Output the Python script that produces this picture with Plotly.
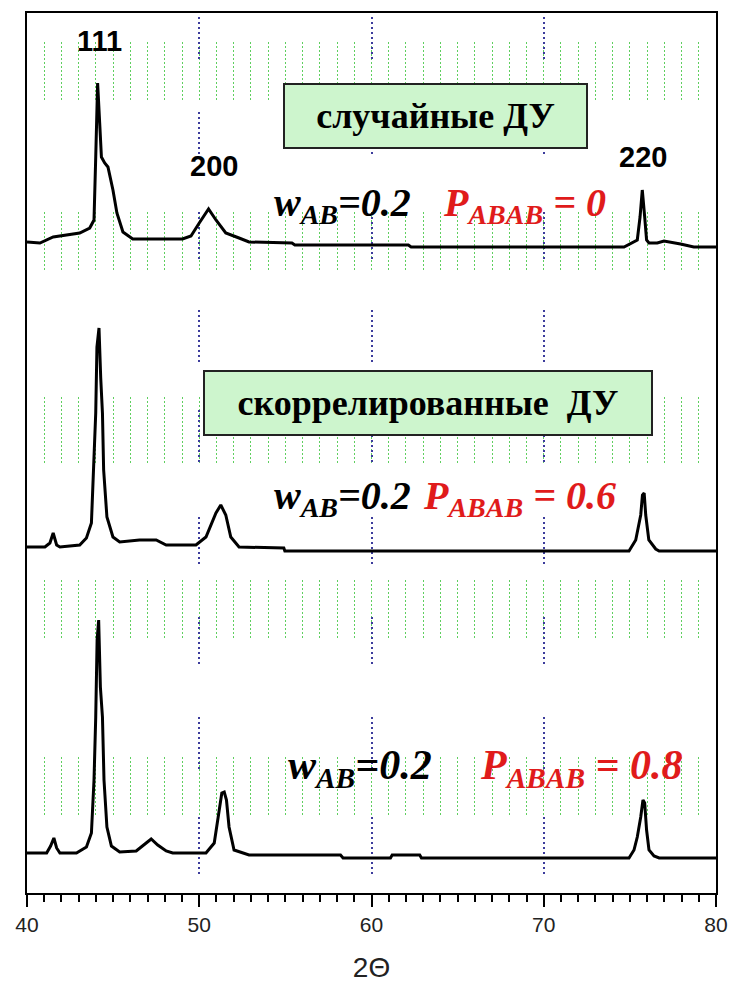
import plotly.graph_objects as go

# Diffraction profiles: 2-theta (deg) and intensity above each pattern's baseline
two_theta_top = [40.0, 40.75, 41.52, 42.29, 43.06, 43.64, 43.89, 43.99, 44.10, 44.22,
                 44.32, 44.51, 44.70, 44.99, 45.22, 45.57, 46.14, 49.03, 49.52, 50.00,
                 50.54, 50.97, 51.54, 52.31, 52.89, 55.38, 55.55, 62.14, 62.30, 74.66,
                 75.43, 75.59, 75.72, 75.86, 75.97, 76.11, 76.59, 76.98, 77.36, 77.94,
                 78.71, 80.0]
intensity_top = [5, 4, 10, 12, 14, 19, 27, 90, 164, 124,
                 90, 84, 80, 57, 34, 15, 8, 8, 11, 24,
                 38, 27, 14, 9, 5, 4, 2, 2, 0, 0,
                 7, 30, 57, 30, 7, 4, 4, 6, 5, 3,
                 0, 0]

two_theta_mid = [40.0, 41.04, 41.33, 41.52, 41.72, 41.91, 43.06, 43.45, 43.74, 43.87,
                 43.99, 44.06, 44.18, 44.28, 44.38, 44.45, 44.64, 44.99, 45.38, 46.53,
                 47.50, 48.08, 49.81, 50.39, 50.97, 51.25, 51.54, 51.83, 52.31, 54.91,
                 54.97, 74.95, 75.34, 75.63, 75.73, 75.83, 75.92, 76.10, 76.50, 76.70,
                 80.0]
intensity_mid = [4, 4, 8, 18, 6, 4, 6, 13, 28, 81,
                 138, 204, 223, 173, 138, 81, 34, 14, 9, 11,
                 11, 6, 6, 14, 38, 46, 36, 14, 4, 3,
                 0, 0, 11, 36, 56, 58, 36, 11, 2, 0,
                 0]

two_theta_bot = [40.0, 41.14, 41.37, 41.56, 41.72, 41.91, 42.87, 43.45, 43.74, 43.89,
                 43.99, 44.07, 44.16, 44.26, 44.38, 44.47, 44.64, 44.90, 45.38, 46.34,
                 46.92, 47.21, 47.59, 48.08, 48.46, 50.39, 50.87, 51.16, 51.31, 51.45,
                 51.58, 51.73, 52.02, 52.89, 58.20, 58.35, 61.10, 61.20, 62.80, 62.90,
                 74.95, 75.24, 75.43, 75.63, 75.76, 75.86, 75.97, 76.11, 76.40, 76.70,
                 80.0]
intensity_bot = [5, 5, 12, 20, 10, 5, 5, 11, 25, 78,
                 141, 218, 238, 171, 141, 78, 31, 12, 6, 7,
                 15, 19, 13, 7, 5, 5, 15, 45, 65, 66,
                 58, 31, 8, 3, 3, 0, 0, 3, 3, 0,
                 0, 8, 21, 41, 58, 55, 28, 8, 2, 0,
                 0]

# vertical shift of each pattern in the stack
offsets = [646, 342, 35]

peak_labels = ["111", "200", "220"]
x_ticks = [40, 50, 60, 70, 80]

# ---- dotted grid patterns (pixel runs measured from the top of the plot area)
def dotted_runs(spans, on, off, total=900):
    arr, pos = [], 0
    for a, b in spans:
        arr += [0, a - pos]
        n = int((b - a) // (on + off))
        arr += [on, off] * n
        pos = a + n * (on + off)
    arr += [0, total - pos]
    return ",".join(f"{v:g}px" for v in arr)

green_bands = [(29, 90), (199, 262), (384, 452), (567, 629), (744, 807)]
blue_runs = [(4, 49), (99, 147), (199, 252), (297, 355), (397, 454),
             (504, 557), (604, 655), (704, 760), (804, 864)]

fig = go.Figure()
for tt, inten, off in zip([two_theta_top, two_theta_mid, two_theta_bot],
                          [intensity_top, intensity_mid, intensity_bot], offsets):
    fig.add_trace(go.Scatter(x=tt, y=[off + v for v in inten], mode="lines",
                             line=dict(color="black", width=3), showlegend=False,
                             hoverinfo="skip"))

serif = "Liberation Serif"
sans = "Liberation Sans"

annots = []
# reflection indices
for lab, (x, y) in zip(peak_labels, [(44.22, 852), (50.87, 727), (75.78, 736)]):
    annots.append(dict(x=x, y=y, text=f"<b>{lab}</b>", showarrow=False,
                       font=dict(family=sans, size=29, color="black")))

# captions in green boxes
for txt, x, y, w in [("случайные ДУ", 63.73, 777, 301),
                     ("скоррелированные\u00a0 ДУ", 63.29, 490, 446)]:
    annots.append(dict(x=x, y=y, text=f"<b>{txt}</b>", showarrow=False,
                       font=dict(family=serif, size=36, color="black"),
                       bgcolor="#cdf5cd", bordercolor="#222222", borderwidth=2,
                       borderpad=0, width=w, height=62))

# parameter labels
params = [("0", 54.22, 64.05, 688, 40), ("0.6", 54.22, 62.89, 395, 40),
          ("0.8", 55.03, 66.18, 125, 42)]
for pval, xw, xp, y, fs in params:
    annots.append(dict(x=xw, y=y, xanchor="left", showarrow=False,
                       text="<b><i>w<sub>AB</sub>=0.2</i></b>",
                       font=dict(family=serif, size=fs, color="black")))
    annots.append(dict(x=xp, y=y, xanchor="left", showarrow=False,
                       text=f"<b><i>P<sub>ABAB</sub> = {pval}</i></b>",
                       font=dict(family=serif, size=fs, color="#e01b1b")))

fig.update_layout(
    width=729, height=989,
    margin=dict(l=27, r=13, t=13, b=96, autoexpand=False),
    paper_bgcolor="white", plot_bgcolor="white",
    annotations=annots,
    xaxis=dict(
        range=[40, 80], tickvals=x_ticks, ticktext=[str(v) for v in x_ticks],
        automargin=False, ticklabeloverflow="allow",
        ticks="outside", ticklen=12, tickwidth=2, tickcolor="black",
        showline=True, linecolor="black", linewidth=2, mirror=True,
        showgrid=True, gridcolor="#3c3c9c", gridwidth=2,
        griddash=dotted_runs(blue_runs, 2, 3),
        zeroline=False,
        tickfont=dict(family=sans, size=21, color="#222222"),
        title=dict(text="2Θ", font=dict(family=sans, size=28, color="#222222"),
                   standoff=22),
        minor=dict(dtick=1, tick0=40, ticks="outside", ticklen=7, tickwidth=1.5,
                   tickcolor="black", showgrid=True, gridcolor="#5fcf5f",
                   gridwidth=1, griddash=dotted_runs(green_bands, 2, 2)),
    ),
    yaxis=dict(range=[0, 880], showticklabels=False, ticks="", showgrid=False,
               automargin=False, zeroline=False, showline=True, linecolor="black",
               linewidth=2, mirror=True),
)

fig.write_html("out.html")
